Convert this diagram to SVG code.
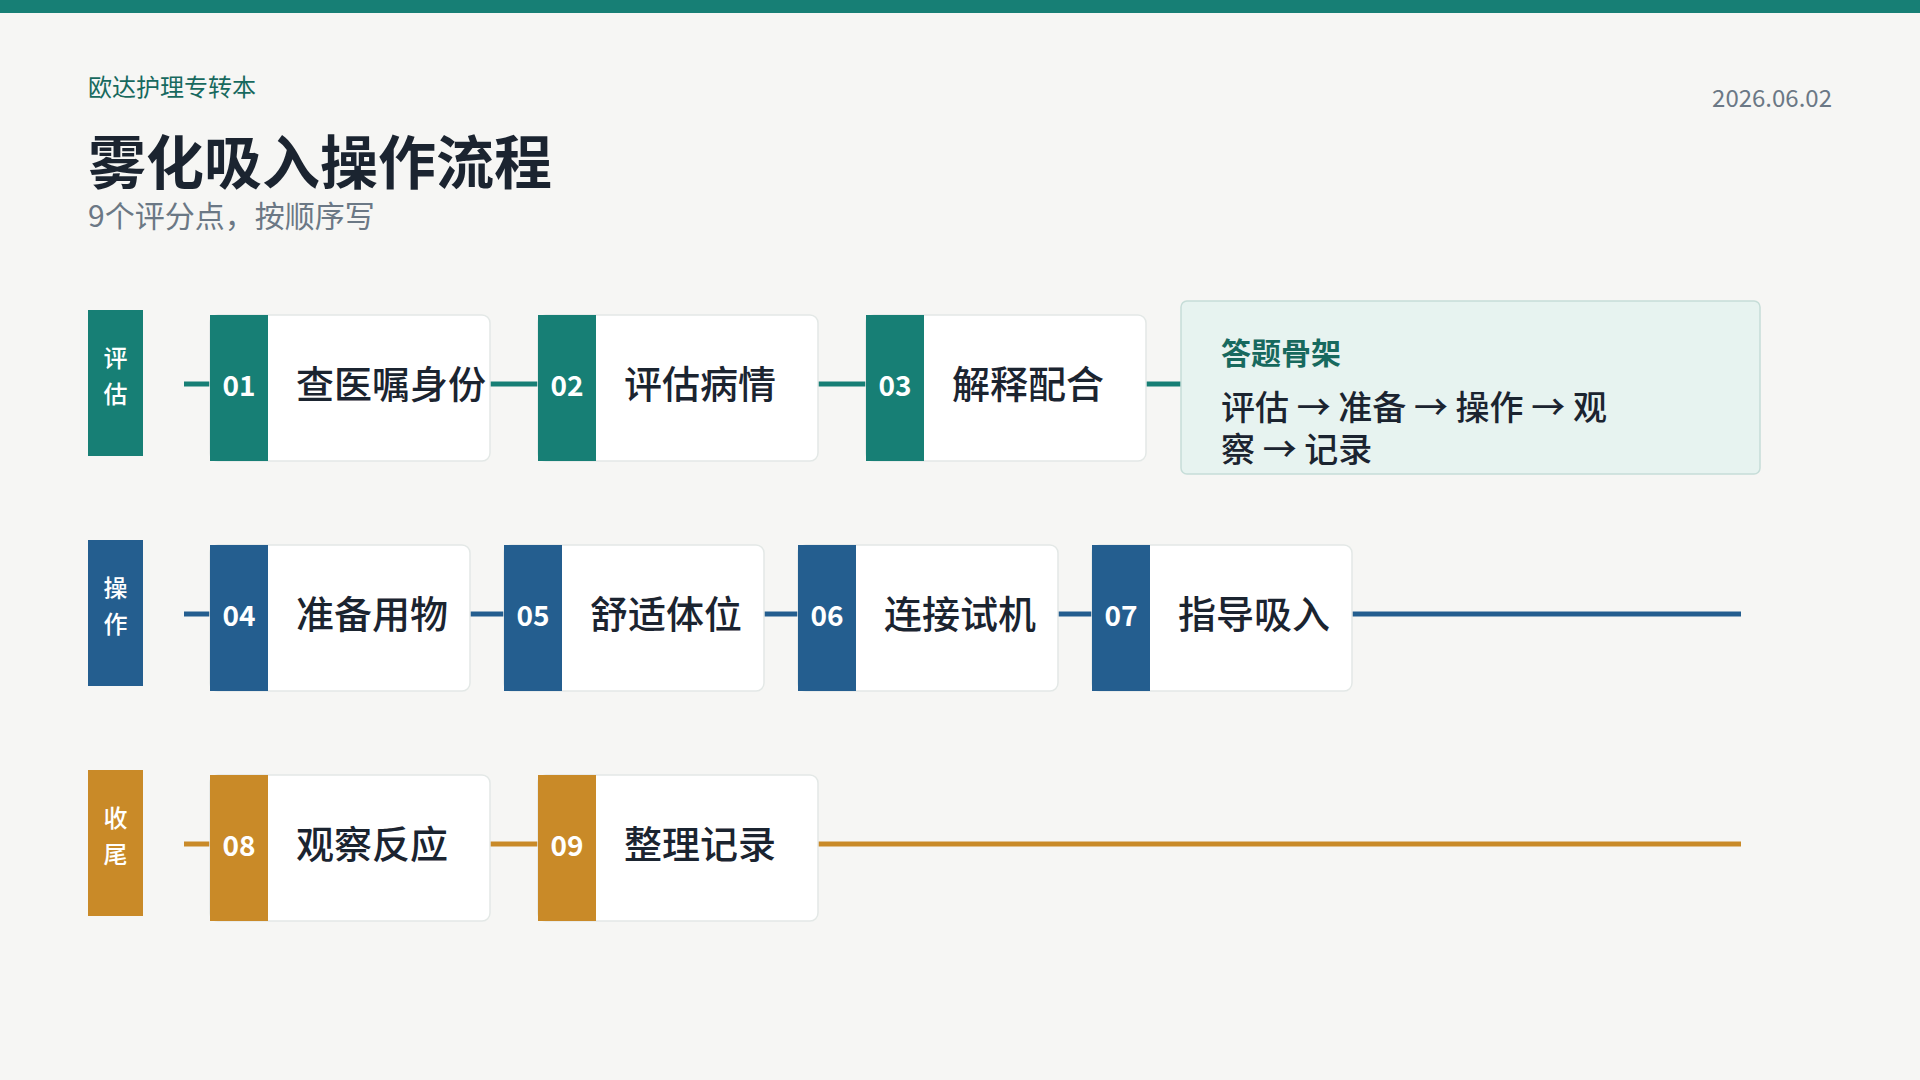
<svg xmlns="http://www.w3.org/2000/svg" width="1920" height="1080" viewBox="0 0 1920 1080">
<style>
.cjk{font-family:"Noto Sans CJK SC","Noto Sans",sans-serif}
.card{fill:#FFFFFF;stroke:#E3E8E6;stroke-width:1.5}
.num{font-family:"Noto Sans CJK SC","Noto Sans",sans-serif;font-size:28px;font-weight:700;fill:#FFFFFF;text-anchor:middle}
.lbl{font-family:"Noto Sans CJK SC",sans-serif;font-size:38px;font-weight:500;fill:#1B2430}
.stg{font-family:"Noto Sans CJK SC",sans-serif;font-size:24px;font-weight:500;fill:#FFFFFF;text-anchor:middle}
.teal{fill:#177F75}.blue{fill:#245E8F}.amber{fill:#C98A28}
.lt{stroke:#177F75;stroke-width:5}.lb{stroke:#245E8F;stroke-width:5}.la{stroke:#C98A28;stroke-width:5}
</style>
<rect width="1920" height="1080" fill="#F6F6F4"/>
<rect width="1920" height="13" fill="#177F75"/>
<g id="header">
<text x="88" y="96" class="cjk" font-size="24" fill="#17695E">欧达护理专转本</text>
<text x="88" y="184" class="cjk" font-size="58" font-weight="700" fill="#1B2430">雾化吸入操作流程</text>
<text x="88" y="227" class="cjk" font-size="30" fill="#6B7885">9个评分点，按顺序写</text>
<text x="1832" y="107" class="cjk" font-size="24" fill="#6B7885" text-anchor="end">2026.06.02</text>
</g>
<g id="connectors">
<line x1="184" y1="384" x2="210" y2="384" class="lt"/>
<line x1="490" y1="384" x2="538" y2="384" class="lt"/>
<line x1="818" y1="384" x2="866" y2="384" class="lt"/>
<line x1="1146" y1="384" x2="1181" y2="384" class="lt"/>
<line x1="184" y1="614" x2="210" y2="614" class="lb"/>
<line x1="470" y1="614" x2="504" y2="614" class="lb"/>
<line x1="764" y1="614" x2="798" y2="614" class="lb"/>
<line x1="1058" y1="614" x2="1092" y2="614" class="lb"/>
<line x1="1352" y1="614" x2="1741" y2="614" class="lb"/>
<line x1="184" y1="844" x2="210" y2="844" class="la"/>
<line x1="490" y1="844" x2="538" y2="844" class="la"/>
<line x1="818" y1="844" x2="1741" y2="844" class="la"/>
</g>
<g id="stage-assess"><rect x="88" y="310" width="55" height="146" class="teal"/><text class="stg" x="115.5" y="367">评</text><text class="stg" x="115.5" y="403">估</text></g>
<g id="stage-operate"><rect x="88" y="540" width="55" height="146" class="blue"/><text class="stg" x="115.5" y="597">操</text><text class="stg" x="115.5" y="633">作</text></g>
<g id="stage-finish"><rect x="88" y="770" width="55" height="146" class="amber"/><text class="stg" x="115.5" y="827">收</text><text class="stg" x="115.5" y="863">尾</text></g>
<g id="step01"><rect x="210" y="315" width="280" height="146" rx="8" class="card"/><rect x="210" y="315" width="58" height="146" class="teal"/><text class="num" x="239" y="396">01</text><text class="lbl" x="296" y="398">查医嘱身份</text></g>
<g id="step02"><rect x="538" y="315" width="280" height="146" rx="8" class="card"/><rect x="538" y="315" width="58" height="146" class="teal"/><text class="num" x="567" y="396">02</text><text class="lbl" x="624" y="398">评估病情</text></g>
<g id="step03"><rect x="866" y="315" width="280" height="146" rx="8" class="card"/><rect x="866" y="315" width="58" height="146" class="teal"/><text class="num" x="895" y="396">03</text><text class="lbl" x="952" y="398">解释配合</text></g>
<g id="summary"><rect x="1181" y="301" width="579" height="173" rx="6" fill="#E7F3F0" stroke="#C6DDD8" stroke-width="1.5"/><text x="1221" y="364" class="cjk" font-size="30" font-weight="700" fill="#17695E">答题骨架</text><text class="cjk" font-size="34" font-weight="500" fill="#1B2430"><tspan x="1221" y="420">评估 → 准备 → 操作 → 观</tspan><tspan x="1221" y="462">察 → 记录</tspan></text></g>
<g id="step04"><rect x="210" y="545" width="260" height="146" rx="8" class="card"/><rect x="210" y="545" width="58" height="146" class="blue"/><text class="num" x="239" y="626">04</text><text class="lbl" x="296" y="628">准备用物</text></g>
<g id="step05"><rect x="504" y="545" width="260" height="146" rx="8" class="card"/><rect x="504" y="545" width="58" height="146" class="blue"/><text class="num" x="533" y="626">05</text><text class="lbl" x="590" y="628">舒适体位</text></g>
<g id="step06"><rect x="798" y="545" width="260" height="146" rx="8" class="card"/><rect x="798" y="545" width="58" height="146" class="blue"/><text class="num" x="827" y="626">06</text><text class="lbl" x="884" y="628">连接试机</text></g>
<g id="step07"><rect x="1092" y="545" width="260" height="146" rx="8" class="card"/><rect x="1092" y="545" width="58" height="146" class="blue"/><text class="num" x="1121" y="626">07</text><text class="lbl" x="1178" y="628">指导吸入</text></g>
<g id="step08"><rect x="210" y="775" width="280" height="146" rx="8" class="card"/><rect x="210" y="775" width="58" height="146" class="amber"/><text class="num" x="239" y="856">08</text><text class="lbl" x="296" y="858">观察反应</text></g>
<g id="step09"><rect x="538" y="775" width="280" height="146" rx="8" class="card"/><rect x="538" y="775" width="58" height="146" class="amber"/><text class="num" x="567" y="856">09</text><text class="lbl" x="624" y="858">整理记录</text></g>
</svg>
